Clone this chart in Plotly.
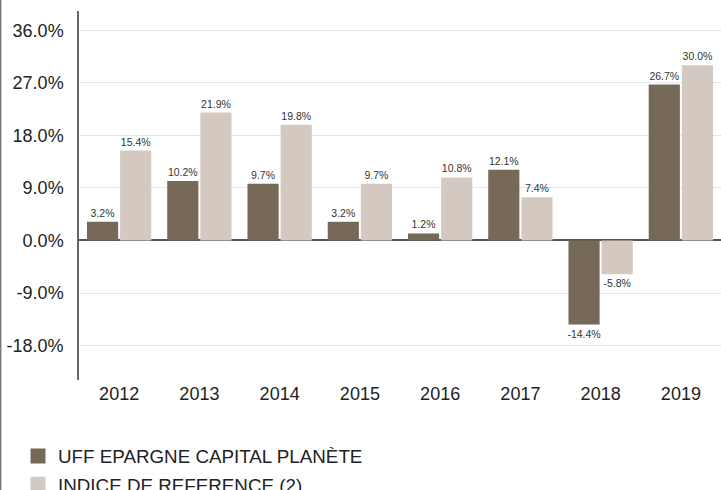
import plotly.graph_objects as go

years = ["2012", "2013", "2014", "2015", "2016", "2017", "2018", "2019"]
fund = [3.2, 10.2, 9.7, 3.2, 1.2, 12.1, -14.4, 26.7]
index_ref = [15.4, 21.9, 19.8, 9.7, 10.8, 7.4, -5.8, 30.0]
tick_vals = [-18, -9, 0, 9, 18, 27, 36]
tick_text = ["-18.0%", "-9.0%", "0.0%", "9.0%", "18.0%", "27.0%", "36.0%"]
names = ["UFF EPARGNE CAPITAL PLANÈTE", "INDICE DE REFERENCE (2)"]
colors = ["#766957", "#D3C9C0"]

fig = go.Figure()
for vals, name, col in [(fund, names[0], colors[0]), (index_ref, names[1], colors[1])]:
    fig.add_trace(go.Bar(
        x=years, y=vals, name=name, showlegend=False,
        marker=dict(color=col, line=dict(width=0)),
        text=[f"{v:.1f}%" for v in vals], textposition="outside",
        constraintext="none",
        textfont=dict(size=10.5, color="#333333"), cliponaxis=False,
    ))
for i, (name, col) in enumerate(zip(names, colors)):
    fig.add_trace(go.Scatter(
        x=[None], y=[None], mode="markers", name=name, legendgroup=f"g{i}",
        marker=dict(symbol="square", size=15, color=col),
    ))

fig.update_layout(
    width=721, height=490,
    margin=dict(l=79, r=0, t=11, b=110, autoexpand=False),
    paper_bgcolor="white", plot_bgcolor="white",
    font=dict(family="Liberation Sans, Arial, sans-serif", color="#222222"),
    barmode="group", bargap=0.174, bargroupgap=0.06,
    showlegend=True,
    legend=dict(orientation="v", x=-0.095, xanchor="left", y=-0.155, yanchor="top",
                font=dict(size=18.8, color="#222222"), tracegroupgap=1,
                itemsizing="trace"),
    xaxis=dict(showgrid=False, showline=False, ticks="", tickfont=dict(size=18),
               ticklabelstandoff=1),
    yaxis=dict(range=[-23.9, 39.3], tickvals=tick_vals, ticktext=tick_text,
               showgrid=True, gridcolor="#E6E6E6", gridwidth=1,
               zeroline=True, zerolinecolor="#555555", zerolinewidth=1.5,
               showline=True, linecolor="#666666", linewidth=1.5,
               tickfont=dict(size=18), ticks="", ticklabelstandoff=10),
)
fig.add_shape(type="line", xref="paper", yref="paper",
              x0=-79/642 + 0.001, x1=-79/642 + 0.001, y0=-110/369, y1=11/369 + 1,
              line=dict(color="#777777", width=1.5))

fig.write_html("out.html", config={"displayModeBar": False},
               post_script="document.body.style.margin='0';")
